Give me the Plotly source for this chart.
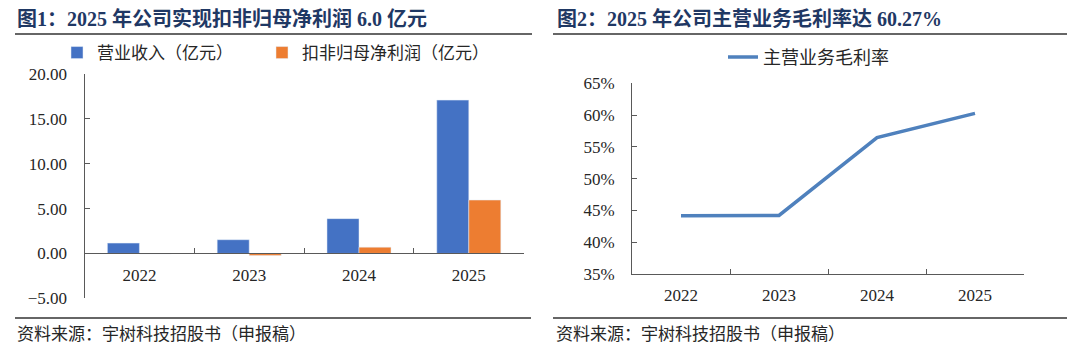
import plotly.graph_objects as go

years = ["2022", "2023", "2024", "2025"]
revenue = [1.15, 1.53, 3.88, 17.09]          # 营业收入（亿元）
net_profit = [-0.05, -0.22, 0.70, 5.95]       # 扣非归母净利润（亿元）
gross_margin = [44.18, 44.22, 56.45, 60.27]  # 主营业务毛利率 (%)

title1 = "<b>图1：2025 年公司实现扣非归母净利润 6.0 亿元</b>"
title2 = "<b>图2：2025 年公司主营业务毛利率达 60.27%</b>"
source = "资料来源：宇树科技招股书（申报稿）"

W, H = 1080, 352
def px(x):
    return x / W
def py(y):
    return 1 - y / H

TICKFONT = dict(family="Liberation Serif, Noto Sans CJK SC", size=17, color="#262626")
CJK = "Noto Sans CJK SC"
AXC = "#595959"
LEGFONT = dict(family=CJK, size=17, color="#262626")

fig = go.Figure()
fig.add_trace(go.Bar(x=years, y=revenue, name="营业收入（亿元）", marker_color="#4472C4",
                     xaxis="x", yaxis="y", legend="legend"))
fig.add_trace(go.Bar(x=years, y=net_profit, name="扣非归母净利润（亿元）", marker_color="#ED7D31",
                     xaxis="x", yaxis="y", legend="legend3"))
fig.add_trace(go.Scatter(x=years, y=gross_margin, name="主营业务毛利率", mode="lines",
                         line=dict(color="#4F81BD", width=3.5), xaxis="x2", yaxis="y2",
                         legend="legend2"))

fig.update_layout(
    width=W, height=H, margin=dict(l=0, r=0, t=0, b=0, autoexpand=False),
    paper_bgcolor="white", plot_bgcolor="white",
    barmode="group", bargap=0.417, bargroupgap=0,
    showlegend=True,
    xaxis=dict(domain=[px(84.5), px(523.7)], anchor="free", position=py(253),
               type="category", showline=True, linecolor=AXC, linewidth=1,
               ticks="inside", tickson="boundaries", ticklen=5, tickcolor=AXC,
               tickfont=TICKFONT, ticklabelstandoff=7, showgrid=False, zeroline=False),
    yaxis=dict(domain=[py(298.3), py(74)], range=[-5, 20], dtick=5, tickformat=".2f",
               anchor="x", showline=True, linecolor=AXC, linewidth=1,
               ticks="inside", ticklen=5, tickcolor=AXC, tickfont=TICKFONT,
               ticklabelstandoff=13, showgrid=False, zeroline=False),
    xaxis2=dict(domain=[px(632), px(1024)], anchor="y2", type="category", range=[-0.5, 3.5],
                showline=True, linecolor=AXC, linewidth=1,
                ticks="inside", tickson="boundaries", ticklen=5, tickcolor=AXC,
                tickfont=TICKFONT, ticklabelstandoff=6, showgrid=False, zeroline=False),
    yaxis2=dict(domain=[py(274), py(83.3)], range=[35, 65], dtick=5, ticksuffix="%",
                anchor="x2", showline=True, linecolor=AXC, linewidth=1,
                ticks="inside", ticklen=5, tickcolor=AXC, tickfont=TICKFONT,
                ticklabelstandoff=13, showgrid=False, zeroline=False),
    legend=dict(orientation="h", x=px(57), y=py(53), xanchor="left", yanchor="middle",
                font=LEGFONT, bgcolor="rgba(0,0,0,0)"),
    legend3=dict(orientation="h", x=px(262), y=py(53), xanchor="left", yanchor="middle",
                 font=LEGFONT, bgcolor="rgba(0,0,0,0)"),
    legend2=dict(orientation="h", x=px(723), y=py(57.3), xanchor="left", yanchor="middle",
                 font=dict(family=CJK, size=18, color="#262626"), bgcolor="rgba(0,0,0,0)"),
)

annots = [
    (title1, 15, 19, 20, "#1F3864"),
    (title2, 555, 19, 20, "#1F3864"),
    (source, 15, 334, 17, "#262626"),
    (source, 554, 334, 17, "#262626"),
]
for text, x, y, size, color in annots:
    fig.add_annotation(text=text, xref="paper", yref="paper", x=px(x), y=py(y),
                       xanchor="left", yanchor="middle", showarrow=False,
                       font=dict(family="Liberation Serif, " + CJK, size=size, color=color))

for x0, x1, y in [(15, 532, 34), (553, 1067, 34), (15, 531, 318), (553, 1067, 318)]:
    fig.add_shape(type="line", xref="paper", yref="paper", x0=px(x0), x1=px(x1),
                  y0=py(y), y1=py(y), line=dict(color="#333333", width=1.5))

fig.write_html("out.html")
